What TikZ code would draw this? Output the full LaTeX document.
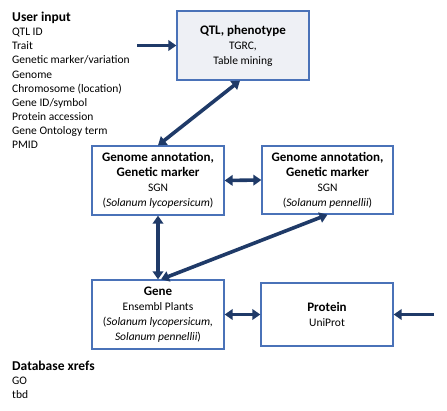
\documentclass[tikz,border=0pt]{standalone}
\usepackage{fontspec}
\setmainfont{Carlito}
\usepackage{xcolor}
\usetikzlibrary{arrows.meta,positioning}

\definecolor{boxblue}{HTML}{4A72B8}
\definecolor{arrownavy}{HTML}{1F3A68}
\definecolor{boxfill}{HTML}{EEF0F5}

\tikzset{
  dbbox/.style={draw=boxblue, line width=1.3pt, fill=white, align=center,
    font=\fontsize{11.5}{15}\selectfont, inner sep=0pt},
  link/.style={arrownavy, line width=3.6pt, {Triangle[length=8pt,width=10.5pt]}-{Triangle[length=8pt,width=10.5pt]}},
  feed/.style={arrownavy, line width=3.6pt, -{Triangle[length=8pt,width=10.5pt]}},
  listtext/.style={align=left, anchor=north west, inner sep=0pt, font=\fontsize{11.5}{14.1}\selectfont}
}
\newcommand{\boxtitle}[1]{{\fontsize{13}{15.5}\selectfont\bfseries #1}}
\newcommand{\listtitle}[1]{{\fontsize{13.5}{16}\selectfont\bfseries #1}}

\begin{document}
\begin{tikzpicture}[x=1pt,y=-1pt]
\useasboundingbox (0,0) rectangle (447,410);

% Boxes
\node[dbbox, fill=boxfill, minimum width=132pt, minimum height=69pt] (qtl) at (243,45.5)
  {\boxtitle{QTL, phenotype}\\TGRC,\\Table mining};
\node[dbbox, minimum width=132pt, minimum height=69pt] (lgen) at (158,180.5)
  {\boxtitle{Genome annotation,}\\\boxtitle{Genetic marker}\\SGN\\(\textit{Solanum lycopersicum})};
\node[dbbox, minimum width=131pt, minimum height=68pt] (rgen) at (327.5,180)
  {\boxtitle{Genome annotation,}\\\boxtitle{Genetic marker}\\SGN\\(\textit{Solanum pennellii})};
\node[dbbox, minimum width=132pt, minimum height=69pt] (gene) at (158,314.5)
  {\boxtitle{Gene}\\Ensembl Plants\\(\textit{Solanum lycopersicum,}\\\textit{Solanum pennellii})};
\node[dbbox, minimum width=132pt, minimum height=63pt] (prot) at (327,314.5)
  {\boxtitle{Protein}\\UniProt};

% Side lists
\node[listtext] (userin) at (12,12)
  {\listtitle{User input}\\QTL ID\\Trait\\Genetic marker/variation\\Genome\\Chromosome (location)\\Gene ID/symbol\\Protein accession\\Gene Ontology term\\PMID};
\node[listtext] (xrefs) at (12,361)
  {\listtitle{Database xrefs}\\GO\\tbd};

% Connectors
\coordinate (infeed) at (137,45.5);
\coordinate (protfeed) at (434,314.5);
\draw[feed] (infeed) -- (qtl.west);
\draw[feed] (protfeed) -- (prot.east);
\draw[link] ([xshift=-3pt]qtl.south) -- (lgen.north);
\draw[link] (lgen.east) -- (rgen.west);
\draw[link] (lgen.south) -- (gene.north);
\draw[link] (rgen.south) -- ([xshift=3pt]gene.north);
\draw[link] (gene.east) -- (prot.west);

\end{tikzpicture}
\end{document}
